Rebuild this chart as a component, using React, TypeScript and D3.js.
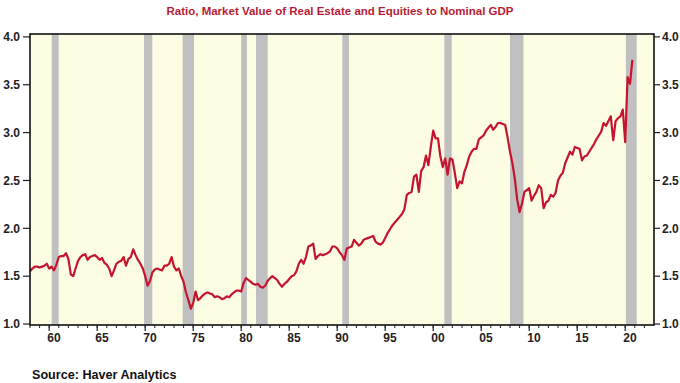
import React from 'react';
import * as d3 from 'd3';

const startYear = 1958;
// Quarterly ratio values, 1958Q1 .. 2020Q4
const ratio: number[] = [
  1.55, 1.58, 1.60, 1.60, // 1958
  1.59, 1.60, 1.61, 1.63, // 1959
  1.58, 1.60, 1.56, 1.62, // 1960
  1.70, 1.71, 1.71, 1.74, // 1961
  1.68, 1.52, 1.50, 1.58, // 1962
  1.66, 1.70, 1.72, 1.73, // 1963
  1.67, 1.70, 1.71, 1.72, // 1964
  1.70, 1.67, 1.69, 1.64, // 1965
  1.62, 1.58, 1.50, 1.56, // 1966
  1.63, 1.65, 1.66, 1.70, // 1967
  1.61, 1.68, 1.70, 1.78, // 1968
  1.72, 1.67, 1.63, 1.58, // 1969
  1.50, 1.40, 1.45, 1.54, // 1970
  1.57, 1.58, 1.57, 1.56, // 1971
  1.61, 1.61, 1.63, 1.70, // 1972
  1.60, 1.56, 1.58, 1.50, // 1973
  1.44, 1.33, 1.25, 1.16, // 1974
  1.22, 1.34, 1.25, 1.27, // 1975
  1.30, 1.32, 1.33, 1.32, // 1976
  1.31, 1.28, 1.29, 1.28, // 1977
  1.26, 1.27, 1.29, 1.28, // 1978
  1.31, 1.33, 1.35, 1.35, // 1979
  1.34, 1.43, 1.48, 1.46, // 1980
  1.44, 1.42, 1.41, 1.42, // 1981
  1.39, 1.38, 1.40, 1.45, // 1982
  1.48, 1.50, 1.48, 1.46, // 1983
  1.42, 1.39, 1.42, 1.44, // 1984
  1.47, 1.50, 1.51, 1.55, // 1985
  1.63, 1.67, 1.63, 1.70, // 1986
  1.81, 1.82, 1.84, 1.68, // 1987
  1.71, 1.73, 1.72, 1.73, // 1988
  1.74, 1.76, 1.81, 1.81, // 1989
  1.79, 1.75, 1.72, 1.67, // 1990
  1.79, 1.80, 1.81, 1.88, // 1991
  1.85, 1.82, 1.84, 1.88, // 1992
  1.89, 1.90, 1.91, 1.92, // 1993
  1.86, 1.84, 1.83, 1.85, // 1994
  1.90, 1.95, 1.99, 2.03, // 1995
  2.06, 2.09, 2.12, 2.15, // 1996
  2.20, 2.35, 2.37, 2.38, // 1997
  2.54, 2.56, 2.38, 2.60, // 1998
  2.64, 2.76, 2.66, 2.85, // 1999
  3.02, 2.94, 2.94, 2.75, // 2000
  2.64, 2.73, 2.56, 2.73, // 2001
  2.72, 2.58, 2.42, 2.49, // 2002
  2.47, 2.59, 2.66, 2.75, // 2003
  2.80, 2.83, 2.83, 2.93, // 2004
  2.95, 2.97, 3.02, 3.05, // 2005
  3.08, 3.03, 3.06, 3.10, // 2006
  3.10, 3.09, 3.08, 2.95, // 2007
  2.80, 2.68, 2.52, 2.30, // 2008
  2.17, 2.26, 2.38, 2.40, // 2009
  2.42, 2.29, 2.34, 2.38, // 2010
  2.45, 2.42, 2.21, 2.27, // 2011
  2.29, 2.35, 2.33, 2.37, // 2012
  2.50, 2.55, 2.58, 2.68, // 2013
  2.74, 2.80, 2.77, 2.85, // 2014
  2.84, 2.83, 2.71, 2.75, // 2015
  2.76, 2.80, 2.84, 2.88, // 2016
  2.93, 2.97, 3.01, 3.10, // 2017
  3.07, 3.12, 3.17, 2.92, // 2018
  3.12, 3.15, 3.17, 3.24, // 2019
  2.90, 3.58, 3.51, 3.76, // 2020
];

const recessionStart = [1960.26, 1969.88, 1973.9, 1980.0, 1981.54, 1990.53, 2001.16, 2008.0, 2020.07];
const recessionEnd = [1960.99, 1970.74, 1975.08, 1980.6, 1982.76, 1991.23, 2001.93, 2009.4, 2021.2];

const yTicks = [1.0, 1.5, 2.0, 2.5, 3.0, 3.5, 4.0];
const xMajorYears = [1960, 1965, 1970, 1975, 1980, 1985, 1990, 1995, 2000, 2005, 2010, 2015, 2020];
const xTickLabels = ['60', '65', '70', '75', '80', '85', '90', '95', '00', '05', '10', '15', '20'];
const minorYears = d3.range(1958, 2023);

const title = 'Ratio, Market Value of Real Estate and Equities to Nominal GDP';
const source = 'Source:  Haver Analytics';

const W = 680, H = 383;
const L = 30, R = 654, T = 34, B = 325;

export default function App() {
  const x = d3.scaleLinear().domain([1958, 2023]).range([L, R]);
  const y = d3.scaleLinear().domain([0.99, 4.03]).range([B, T]);
  const pts: [number, number][] = ratio.map((v, i) => [startYear + i / 4, v]);
  const line = d3.line<[number, number]>().x(d => x(d[0])).y(d => y(d[1]));
  const font = '"Liberation Sans", Arial, sans-serif';

  return (
    <div style={{ position: 'absolute', left: 0, top: 0 }}>
      <svg width={W} height={H} style={{ display: 'block', background: '#fff' }}>
        <text x={340} y={15} textAnchor="middle" fontFamily={font} fontWeight="bold" fontSize={11.5} fill="#b81c35">{title}</text>
        <rect x={L} y={T} width={R - L} height={B - T} fill="#fdfde3" />
        {recessionStart.map((s, i) => (
          <rect key={i} x={x(s)} y={T} width={x(recessionEnd[i]) - x(s)} height={B - T} fill="#c0c0c0" />
        ))}
        <path d={line(pts) || ''} fill="none" stroke="#c4142e" strokeWidth={2.2} strokeLinejoin="round" />
        <rect x={L} y={T} width={R - L} height={B - T} fill="none" stroke="#111" strokeWidth={1.6} />
        {yTicks.map(t => (
          <g key={t}>
            <line x1={L - 7} x2={L} y1={y(t)} y2={y(t)} stroke="#222" strokeWidth={1.2} />
            <text x={L - 10} y={y(t)} dy="0.35em" textAnchor="end" fontFamily={font} fontWeight="bold" fontSize={12} fill="#222">{t.toFixed(1)}</text>
            <line x1={R} x2={R + 6} y1={y(t)} y2={y(t)} stroke="#222" strokeWidth={1.2} />
            <text x={R + 8} y={y(t)} dy="0.35em" textAnchor="start" fontFamily={font} fontWeight="bold" fontSize={12} fill="#222">{t.toFixed(1)}</text>
          </g>
        ))}
        {minorYears.map(yr => (
          <line key={yr} x1={x(yr)} x2={x(yr)} y1={B} y2={B + 3} stroke="#222" strokeWidth={1} />
        ))}
        {xMajorYears.map((yr, i) => (
          <g key={yr}>
            <line x1={x(yr)} x2={x(yr)} y1={B} y2={B + 6} stroke="#222" strokeWidth={1.2} />
            <text x={x(yr + 0.5)} y={342} textAnchor="middle" fontFamily={font} fontWeight="bold" fontSize={12} fill="#222">{xTickLabels[i]}</text>
          </g>
        ))}
        <text x={32} y={379} fontFamily={font} fontWeight="bold" fontSize={12.6} fill="#111">{source}</text>
      </svg>
    </div>
  );
}
